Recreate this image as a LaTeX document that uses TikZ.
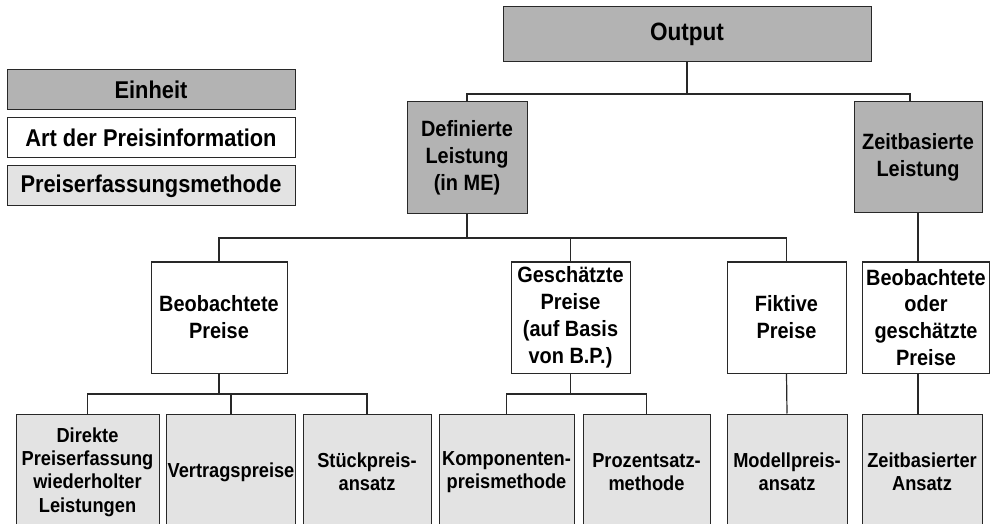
\documentclass[tikz,border=0pt]{standalone}
\usepackage{fontspec}
\setmainfont{Liberation Sans}[FakeStretch=0.9]
\definecolor{dkgray}{RGB}{179,179,179}
\definecolor{ltgray}{RGB}{227,227,227}
\definecolor{edge}{RGB}{40,40,40}
\begin{document}
\begin{tikzpicture}[x=0.75pt,y=-0.75pt,
  box/.style={draw=edge, line width=0.75pt, align=center, inner sep=1pt, text=black},
  dk/.style={box, fill=dkgray},
  wh/.style={box, fill=white},
  lt/.style={box, fill=ltgray},
  fleg/.style={font=\fontsize{18.2}{21}\selectfont\bfseries},
  fout/.style={font=\fontsize{18.8}{21}\selectfont\bfseries},
  fmid/.style={font=\fontsize{16.6}{20.2}\selectfont\bfseries},
  fbot/.style={font=\fontsize{15.2}{17.5}\selectfont\bfseries},
  legbox/.style={minimum width=216pt, minimum height=30pt},
  midbox/.style={minimum height=83.25pt},
  botbox/.style={minimum height=87pt},
  con/.style={draw=edge, line width=0.9pt}]
\useasboundingbox (0,0) rectangle (1000,524);
\clip (0,0) rectangle (1000,524);
% legend
\node[dk, fleg, legbox] (ein) at (151,90) {Einheit};
\node[wh, fleg, legbox] (art) at (151,138) {Art der Preisinformation};
\node[lt, fleg, legbox] (pm) at (151,186) {Preiserfassungsmethode};
% level 0
\node[dk, fout, minimum width=276pt, minimum height=41.25pt] (out) at (687,34.5) {Output};
% level 1
\node[dk, fmid, minimum width=90pt, minimum height=84pt] (def) at (467,158) {Definierte\\Leistung\\(in ME)};
\node[dk, fmid, minimum width=96pt, minimum height=83.25pt] (zeit) at (918,157.5) {Zeitbasierte\\Leistung};
% level 2
\node[wh, fmid, midbox, minimum width=102pt] (beo) at (219,317.5) {Beobachtete\\Preise};
\node[wh, fmid, midbox, minimum width=89.25pt] (ges) at (570.5,317.5) {Geschätzte\\Preise\\(auf Basis\\von B.P.)};
\node[wh, fmid, midbox, minimum width=89.25pt] (fik) at (786.5,317.5) {Fiktive\\Preise};
\node[wh, fmid, midbox, minimum width=95.25pt] (bog) at (926,317.5) {Beobachtete\\oder\\geschätzte\\Preise};
% level 3
\node[lt, fbot, botbox, minimum width=107.25pt] (dir) at (87.5,472) {Direkte\\Preiserfassung\\wiederholter\\Leistungen};
\node[lt, fbot, botbox, minimum width=96pt] (ver) at (231,472) {Vertragspreise};
\node[lt, fbot, botbox, minimum width=96pt] (stk) at (367,472) {Stückpreis-\\ansatz};
\node[lt, fbot, botbox, minimum width=101.25pt] (kom) at (506.5,472) {Komponenten-\\preismethode};
\node[lt, fbot, botbox, minimum width=95.25pt] (pro) at (646.5,472) {Prozentsatz-\\methode};
\node[lt, fbot, botbox, minimum width=90pt] (mod) at (787,472) {Modellpreis-\\ansatz};
\node[lt, fbot, botbox, minimum width=90pt] (za) at (922,472) {Zeitbasierter\\Ansatz};
% junction coordinates
\coordinate (j1) at (687,94);
\coordinate (j2) at (467,238);
\coordinate (j3) at (219,394);
\coordinate (j4) at (570.5,394);
\coordinate (zt) at (910,102);
% connectors
\draw[con] (out.south) -- (j1);
\draw[con] (def.north) |- (j1) -| (zt);
\draw[con] (def.south) -- (j2);
\draw[con] (beo.north) |- (j2) -| (fik.north);
\draw[con] (ges.north) -- (ges.north |- j2);
\draw[con] (beo.south) -- (j3);
\draw[con] (dir.north) |- (j3) -| (stk.north);
\draw[con] (ver.north) -- (ver.north |- j3);
\draw[con] (ges.south) -- (j4);
\draw[con] (kom.north) |- (j4) -| (pro.north);
\draw[con] (fik.south) -- (mod.north);
\draw[con] (zeit.south) -- (zeit.south |- bog.north);
\draw[con] (bog.south -| zeit.south) -- (za.north -| zeit.south);
\end{tikzpicture}
\end{document}
